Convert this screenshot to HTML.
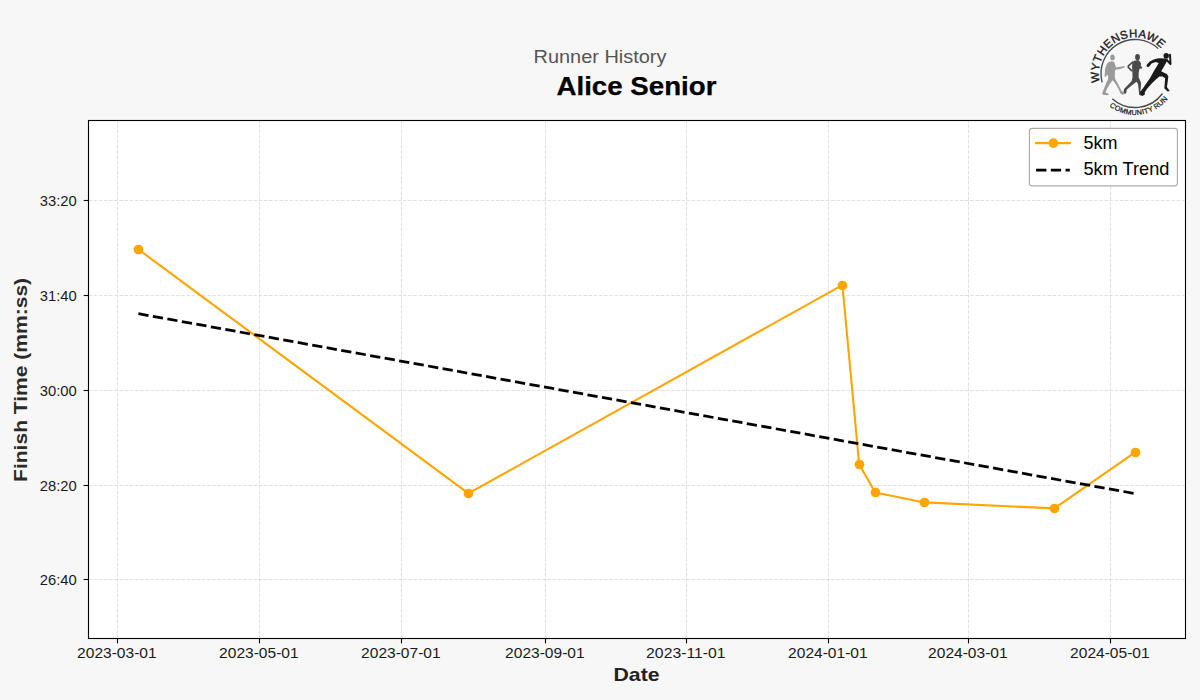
<!DOCTYPE html>
<html><head><meta charset="utf-8"><title>Runner History - Alice Senior</title>
<style>html,body{margin:0;padding:0;background:#f7f7f7;width:1200px;height:700px;overflow:hidden}svg{display:block}</style>
</head><body>
<svg width="1200" height="700" viewBox="0 0 1200 700">
<rect x="0" y="0" width="1200" height="700" fill="#f7f7f7"/>
<rect x="88.5" y="120.5" width="1097.0" height="518.0" fill="#ffffff"/>
<g stroke="#b0b0b0" stroke-opacity="0.4" stroke-width="0.972" stroke-dasharray="3.6 1.556" fill="none"><line x1="117.5" y1="638.5" x2="117.5" y2="120.5"/><line x1="259.5" y1="638.5" x2="259.5" y2="120.5"/><line x1="401.5" y1="638.5" x2="401.5" y2="120.5"/><line x1="545.5" y1="638.5" x2="545.5" y2="120.5"/><line x1="686.5" y1="638.5" x2="686.5" y2="120.5"/><line x1="828.5" y1="638.5" x2="828.5" y2="120.5"/><line x1="968.5" y1="638.5" x2="968.5" y2="120.5"/><line x1="1110.5" y1="638.5" x2="1110.5" y2="120.5"/><line x1="88.5" y1="200.5" x2="1185.5" y2="200.5"/><line x1="88.5" y1="295.5" x2="1185.5" y2="295.5"/><line x1="88.5" y1="390.5" x2="1185.5" y2="390.5"/><line x1="88.5" y1="485.5" x2="1185.5" y2="485.5"/><line x1="88.5" y1="579.5" x2="1185.5" y2="579.5"/></g>
<path d="M138.4,249.4 L468.4,493.4 L842.4,285.1 L859.2,464.3 L875.2,492.4 L924.4,502.4 L1054.4,508.4 L1135.6,452.0" fill="none" stroke="#ffa500" stroke-width="2.083" stroke-linejoin="round" stroke-linecap="square"/>
<g fill="#ffa500"><circle cx="138.5" cy="249.5" r="4.86"/><circle cx="468.5" cy="493.5" r="4.86"/><circle cx="842.5" cy="285.5" r="4.86"/><circle cx="859.5" cy="464.5" r="4.86"/><circle cx="875.5" cy="492.5" r="4.86"/><circle cx="924.5" cy="502.5" r="4.86"/><circle cx="1054.5" cy="508.5" r="4.86"/><circle cx="1135.5" cy="452.5" r="4.86"/></g>
<line x1="138.4" y1="313.7" x2="1135.6" y2="493.7" stroke="#000" stroke-width="2.778" stroke-dasharray="10.28 4.44"/>
<rect x="88.5" y="120.5" width="1097.0" height="518.0" fill="none" stroke="#000" stroke-width="1.11"/>
<g stroke="#000" stroke-width="1.11"><line x1="117.5" y1="638.5" x2="117.5" y2="643.36"/><line x1="259.5" y1="638.5" x2="259.5" y2="643.36"/><line x1="401.5" y1="638.5" x2="401.5" y2="643.36"/><line x1="545.5" y1="638.5" x2="545.5" y2="643.36"/><line x1="686.5" y1="638.5" x2="686.5" y2="643.36"/><line x1="828.5" y1="638.5" x2="828.5" y2="643.36"/><line x1="968.5" y1="638.5" x2="968.5" y2="643.36"/><line x1="1110.5" y1="638.5" x2="1110.5" y2="643.36"/><line x1="83.64" y1="200.5" x2="88.5" y2="200.5"/><line x1="83.64" y1="295.5" x2="88.5" y2="295.5"/><line x1="83.64" y1="390.5" x2="88.5" y2="390.5"/><line x1="83.64" y1="485.5" x2="88.5" y2="485.5"/><line x1="83.64" y1="579.5" x2="88.5" y2="579.5"/></g>
<g font-family='"Liberation Sans", sans-serif' font-size="14.6" fill="#1a1a1a">
<text x="116.85" y="657.9" text-anchor="middle" textLength="79.5" lengthAdjust="spacingAndGlyphs">2023-03-01</text>
<text x="258.85" y="657.9" text-anchor="middle" textLength="79.5" lengthAdjust="spacingAndGlyphs">2023-05-01</text>
<text x="400.85" y="657.9" text-anchor="middle" textLength="79.5" lengthAdjust="spacingAndGlyphs">2023-07-01</text>
<text x="544.85" y="657.9" text-anchor="middle" textLength="79.5" lengthAdjust="spacingAndGlyphs">2023-09-01</text>
<text x="685.85" y="657.9" text-anchor="middle" textLength="79.5" lengthAdjust="spacingAndGlyphs">2023-11-01</text>
<text x="827.85" y="657.9" text-anchor="middle" textLength="79.5" lengthAdjust="spacingAndGlyphs">2024-01-01</text>
<text x="967.85" y="657.9" text-anchor="middle" textLength="79.5" lengthAdjust="spacingAndGlyphs">2024-03-01</text>
<text x="1109.85" y="657.9" text-anchor="middle" textLength="79.5" lengthAdjust="spacingAndGlyphs">2024-05-01</text>
<text x="76.8" y="205.5" text-anchor="end" textLength="37" lengthAdjust="spacingAndGlyphs">33:20</text>
<text x="76.8" y="300.5" text-anchor="end" textLength="37" lengthAdjust="spacingAndGlyphs">31:40</text>
<text x="76.8" y="395.5" text-anchor="end" textLength="37" lengthAdjust="spacingAndGlyphs">30:00</text>
<text x="76.8" y="490.5" text-anchor="end" textLength="37" lengthAdjust="spacingAndGlyphs">28:20</text>
<text x="76.8" y="584.5" text-anchor="end" textLength="37" lengthAdjust="spacingAndGlyphs">26:40</text>
</g>
<text x="636.5" y="680.7" text-anchor="middle" font-family='"Liberation Sans", sans-serif' font-weight="bold" font-size="19" fill="#222222" textLength="46" lengthAdjust="spacingAndGlyphs">Date</text>
<text transform="translate(27.1,379.9) rotate(-90)" x="0" y="0" text-anchor="middle" font-family='"Liberation Sans", sans-serif' font-weight="bold" font-size="18.2" fill="#2a2a2a" textLength="204" lengthAdjust="spacingAndGlyphs">Finish Time (mm:ss)</text>
<text x="600" y="62.9" text-anchor="middle" font-family='"Liberation Sans", sans-serif' font-size="18.7" fill="#555555" textLength="133" lengthAdjust="spacingAndGlyphs">Runner History</text>
<text x="636.5" y="95" text-anchor="middle" font-family='"Liberation Sans", sans-serif' font-weight="bold" font-size="25" fill="#000" stroke="#000" stroke-width="0.25" textLength="160" lengthAdjust="spacingAndGlyphs">Alice Senior</text>
<rect x="1029.4" y="128.4" width="148" height="57.5" rx="2.8" fill="#ffffff" stroke="#aaaaaa" stroke-width="1.11"/>
<line x1="1036.1" y1="143.1" x2="1069.8" y2="143.1" stroke="#ffa500" stroke-width="2.083" stroke-linecap="square"/>
<circle cx="1053.4" cy="143.1" r="4.86" fill="#ffa500"/>
<line x1="1036.1" y1="170.2" x2="1069.8" y2="170.2" stroke="#000" stroke-width="2.778" stroke-dasharray="10.28 4.44"/>
<g font-family='"Liberation Sans", sans-serif' font-size="17.9" fill="#000">
<text x="1083.5" y="149.1" textLength="34" lengthAdjust="spacingAndGlyphs">5km</text>
<text x="1083.5" y="174.9" textLength="86" lengthAdjust="spacingAndGlyphs">5km Trend</text>
</g>
<g id="logo">
<path d="M1102.16,82.30 A34,34 0 0 1 1158.19,48.63" fill="none" stroke="#4a4a4a" stroke-width="1.35"/>
<path d="M1112.25,98.77 A34,34 0 0 0 1162.51,93.48" fill="none" stroke="#4a4a4a" stroke-width="1.35"/>
<defs><path id="lgTop" d="M1100.98,85.88 A36.2,36.2 0 0 1 1164.29,52.22"/>
<path id="lgBot" d="M1106.17,103.35 A41.5,41.5 0 0 0 1170.94,94.25"/></defs>
<text font-family='"Liberation Sans", sans-serif' font-size="11.4" fill="#1a1a1a" stroke="#1a1a1a" stroke-width="0.35"><textPath href="#lgTop" startOffset="3.79" textLength="94.77" lengthAdjust="spacing">WYTHENSHAWE</textPath></text>
<text font-family='"Liberation Sans", sans-serif' font-size="7.2" fill="#1e1e1e" stroke="#1e1e1e" stroke-width="0.25"><textPath href="#lgBot" startOffset="4.35" textLength="65.19" lengthAdjust="spacing">COMMUNITY RUN</textPath></text>
<g fill="#9b9b9b"><ellipse cx="1112.52" cy="57.40" rx="2.26" ry="2.95"/><path d="M1113.89,61.64 L1115.12,64.38 L1115.95,67.47 L1118.55,67.12 L1121.97,66.44 L1124.37,66.10 L1124.85,67.47 L1122.66,68.36 L1119.23,69.18 L1116.15,69.52 L1114.99,70.55 L1114.78,76.03 L1115.12,78.77 L1117.52,82.88 L1119.92,87.67 L1121.63,91.10 L1124.03,92.12 L1125.40,93.84 L1122.66,94.86 L1120.60,93.84 L1118.55,89.04 L1115.81,84.25 L1112.73,80.14 L1109.64,84.25 L1106.90,89.04 L1105.53,92.47 L1108.62,93.84 L1108.27,95.21 L1102.79,94.86 L1102.11,93.15 L1104.16,88.36 L1106.22,82.88 L1107.93,79.45 L1108.27,76.03 L1106.90,74.66 L1105.88,77.05 L1104.51,76.37 L1104.85,72.60 L1105.19,68.49 L1106.90,63.70 L1108.96,61.99 L1111.36,61.30 Z"/></g>
<g fill="#4a4a4a"><ellipse cx="1137.52" cy="57.19" rx="2.40" ry="3.08"/><path d="M1136.36,60.27 L1138.68,60.27 L1140.05,61.78 L1141.08,63.70 L1140.74,66.30 L1142.11,66.78 L1142.11,68.49 L1139.58,68.63 L1138.68,72.60 L1138.68,77.40 L1140.05,80.14 L1141.08,82.88 L1140.74,88.36 L1140.40,91.10 L1142.79,91.78 L1144.51,94.52 L1141.29,95.68 L1139.10,94.66 L1138.75,90.41 L1138.07,84.25 L1136.49,81.64 L1133.89,83.70 L1129.78,87.12 L1126.70,89.86 L1126.36,92.47 L1125.19,93.97 L1123.68,91.92 L1124.03,89.04 L1127.45,85.48 L1131.56,81.37 L1132.52,77.40 L1132.38,71.92 L1132.04,67.12 L1132.38,62.67 L1133.75,60.96 Z"/><path d="M1132.73,62.19 L1128.41,65.89 L1128.27,67.26 L1131.56,70.55" fill="none" stroke="#4a4a4a" stroke-width="1.7" stroke-linecap="round" stroke-linejoin="round"/></g>
<g fill="#1a1a1a"><ellipse cx="1166.21" cy="55.86" rx="2.71" ry="2.86"/><path d="M1159.43,58.36 L1165.50,58.57 L1167.43,60.29 L1164.57,65.50 L1161.21,71.21 L1164.07,72.64 L1166.93,74.07 L1168.36,76.57 L1167.43,83.71 L1166.93,86.93 L1168.86,89.79 L1169.79,91.21 L1167.29,91.21 L1164.29,88.36 L1164.57,85.86 L1165.14,78.36 L1162.64,76.57 L1159.43,76.43 L1155.86,79.43 L1151.21,84.07 L1146.93,89.07 L1144.79,92.29 L1144.79,94.43 L1142.29,96.00 L1140.14,94.07 L1140.71,91.21 L1143.36,87.64 L1146.57,83.00 L1150.14,78.00 L1152.29,74.07 L1154.07,70.86 L1156.43,66.93 L1158.71,63.00 L1155.50,61.93 L1151.57,63.57 L1149.43,66.21 L1148.00,67.29 L1146.57,66.21 L1146.93,64.43 L1149.79,61.57 L1153.71,59.43 L1157.29,58.57 Z"/><path d="M1166.57,59.79 L1170.50,64.07 L1170.00,54.79" fill="none" stroke="#1a1a1a" stroke-width="2" stroke-linecap="round" stroke-linejoin="round"/></g>
</g>
</svg>
</body></html>
